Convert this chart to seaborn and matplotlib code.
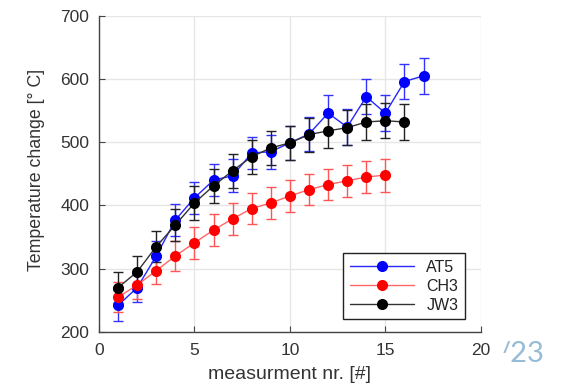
import matplotlib
matplotlib.use("Agg")
import matplotlib.pyplot as plt
from matplotlib.colors import to_hex
from matplotlib.patches import Rectangle
import pandas as pd
import seaborn as sns

at5_x = list(range(1, 18))
at5_y = [242, 270, 320, 377, 412, 440, 447, 483, 485, 499, 513, 546, 524, 572, 546, 596, 605]
at5_err = [25, 22, 23, 25, 25, 25, 26, 26, 27, 27, 27, 28, 28, 28, 28, 28, 29]

ch3_x = list(range(1, 16))
ch3_y = [255, 274, 297, 320, 341, 361, 379, 395, 404, 415, 425, 433, 439, 445, 448]
ch3_err = [24, 22, 22, 24, 25, 25, 25, 25, 25, 25, 25, 25, 25, 25, 26]

jw3_x = list(range(1, 17))
jw3_y = [270, 295, 335, 369, 404, 431, 455, 477, 491, 499, 512, 518, 523, 532, 534, 532]
jw3_err = [25, 25, 25, 25, 27, 27, 27, 27, 27, 27, 27, 27, 28, 28, 28, 28]

names = ["AT5", "CH3", "JW3"]
line_colors = {"AT5": "#2626ff", "CH3": "#ff6666", "JW3": "#333333"}
marker_colors = {"AT5": "#0000ff", "CH3": "#ff0000", "JW3": "#000000"}
bar_colors = {"AT5": "#3333ff", "CH3": "#ff5555", "JW3": "#222222"}


def main() -> None:
    frames = []
    for name, xs, ys, es in [("AT5", at5_x, at5_y, at5_err),
                             ("CH3", ch3_x, ch3_y, ch3_err),
                             ("JW3", jw3_x, jw3_y, jw3_err)]:
        frames.append(pd.DataFrame({"nr": xs, "temp": ys, "err": es, "sample": name}))
    data = pd.concat(frames, ignore_index=True)

    sns.set_style("whitegrid")
    plt.rcParams["font.family"] = ["Liberation Sans", "DejaVu Sans"]

    fig = plt.figure(figsize=(5.69, 3.85), dpi=100)

    # slide page number, partly hidden behind the pasted chart
    fig.text(0.874, 0.08, "/23", fontsize=21, color="#95bcd4", family="Lato",
             va="center", ha="left", zorder=0)
    fig.patches.append(Rectangle((0.862, 0.0), 0.028, 0.083, transform=fig.transFigure,
                                 facecolor="white", edgecolor="none", zorder=1))

    ax = fig.add_axes([0.174, 0.138, 0.671, 0.821])

    for name in names:
        sub = data[data["sample"] == name]
        ax.errorbar(sub["nr"], sub["temp"], yerr=sub["err"], fmt="none",
                    ecolor=bar_colors[name], elinewidth=1.0, capsize=3.6, capthick=1.0,
                    zorder=2)

    n_before = len(ax.lines)
    sns.lineplot(data=data, x="nr", y="temp", hue="sample", hue_order=names,
                 palette=line_colors, linewidth=1.0, marker="o", markersize=8,
                 markeredgewidth=0, ax=ax, zorder=3)
    # fill markers with the saturated colour
    lookup = {to_hex(c): n for n, c in line_colors.items()}
    for line in ax.lines[n_before:]:
        key = to_hex(line.get_color())
        if key in lookup:
            line.set_markerfacecolor(marker_colors[lookup[key]])

    ax.set_xlim(0, 20)
    ax.set_ylim(200, 700)
    ax.set_xticks([0, 5, 10, 15, 20])
    ax.set_yticks([200, 300, 400, 500, 600, 700])
    ax.grid(True, color="#e6e6e6", linewidth=1.0)
    ax.set_axisbelow(True)
    for side in ["top", "right"]:
        ax.spines[side].set_visible(False)
    for side in ["left", "bottom"]:
        ax.spines[side].set_color("#444444")
        ax.spines[side].set_linewidth(1.0)
    ax.tick_params(axis="both", direction="in", length=4, width=0.8, color="#444444",
                   labelsize=12.5, labelcolor="#333333", left=True, bottom=True)
    ax.tick_params(axis="x", pad=8)
    ax.tick_params(axis="y", pad=7)

    ax.set_xlabel("measurment nr. [#]", fontsize=14, color="#333333")
    ax.set_ylabel("Temperature change [° C]", fontsize=12.8, color="#333333")
    ax.xaxis.set_label_coords(0.5, -0.108)
    ax.yaxis.set_label_coords(-0.141, 0.513)

    handles, labels = ax.get_legend_handles_labels()
    for h, name in zip(handles, labels):
        h.set_markerfacecolor(marker_colors[name])
    leg = ax.legend(handles, labels, loc="lower right", bbox_to_anchor=(0.958, 0.041),
                    borderaxespad=0, fontsize=11.5, handlelength=4.0, fancybox=False,
                    framealpha=1, edgecolor="#222222", borderpad=0.4, labelspacing=0.25)
    leg.get_frame().set_linewidth(1.0)
    for t in leg.get_texts():
        t.set_color("#222222")

    fig.savefig("out.png", dpi=100)
    plt.close(fig)


if __name__ == "__main__":
    main()
